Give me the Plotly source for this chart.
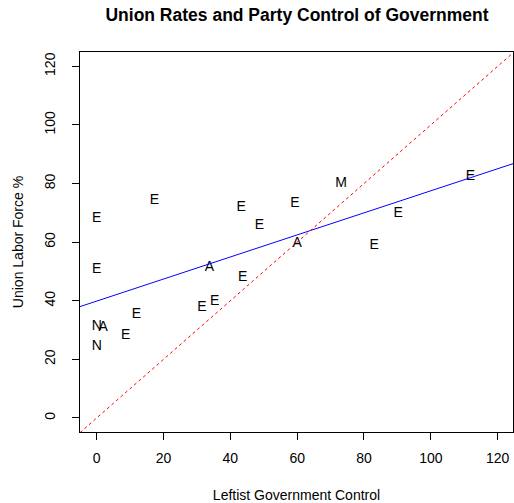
import numpy as np
import plotly.graph_objects as go

countries = ["Sweden", "Israel", "Iceland", "Finland", "Belgium", "Denmark", "Ireland",
             "Austria", "New Zealand", "Norway", "Australia", "Italy", "United Kingdom",
             "Germany", "Netherlands", "Switzerland", "Canada", "Japan", "France", "United States"]
union = [82.4, 80.0, 74.3, 73.3, 71.9, 69.8, 68.1, 65.6, 59.4, 58.9, 51.4, 50.6, 48.0,
         39.6, 37.7, 35.4, 31.2, 31.0, 28.2, 24.5]
left = [111.84, 73.17, 17.25, 59.33, 43.25, 90.24, 0.0, 48.67, 60.0, 83.08, 33.74, 0.0,
        43.67, 35.33, 31.50, 11.87, 0.0, 1.92, 8.67, 0.0]
region = ["E", "M", "E", "E", "E", "E", "E", "E", "A", "E", "A", "E", "E",
          "E", "E", "E", "N", "A", "E", "N"]

x_range = [-5.0, 124.6]
y_range = [-4.8, 124.9]
x_ticks = [0, 20, 40, 60, 80, 100, 120]
y_ticks = [0, 20, 40, 60, 80, 100, 120]

slope, intercept = np.polyfit(left, union, 1)
xl = np.array(x_range)

FONT = "Liberation Sans, Arial"

fig = go.Figure()
fig.add_trace(go.Scatter(x=left, y=union, mode="text", text=region,
                         textposition="middle center",
                         textfont=dict(family=FONT, size=14, color="black"),
                         hovertext=countries, showlegend=False))
fig.add_trace(go.Scatter(x=xl, y=intercept + slope * xl, mode="lines",
                         line=dict(color="blue", width=1), showlegend=False))
fig.add_trace(go.Scatter(x=xl, y=xl, mode="lines",
                         line=dict(color="red", width=1, dash="3px,3px"), showlegend=False))

axis_common = dict(showgrid=False, zeroline=False, showline=True, linecolor="black",
                   linewidth=1, mirror=True, ticks="outside", ticklen=7, tickcolor="black",
                   tickfont=dict(family=FONT, size=14, color="black"))
fig.update_xaxes(range=x_range, tickvals=x_ticks, ticklabelstandoff=6,
                 title=dict(text="Leftist Government Control",
                            font=dict(family=FONT, size=14, color="black"), standoff=25),
                 **axis_common)
fig.update_yaxes(range=y_range, tickvals=y_ticks, tickangle=-90, ticklabelstandoff=11,
                 title=dict(text="Union Labor Force %",
                            font=dict(family=FONT, size=14, color="black"), standoff=15),
                 **axis_common)
fig.update_layout(
    width=514, height=503,
    margin=dict(l=80, r=1, t=52, b=71),
    plot_bgcolor="white", paper_bgcolor="white",
    title=dict(text="<b>Union Rates and Party Control of Government</b>",
               xref="container", x=297 / 514, xanchor="center",
               y=1 - 15 / 503, yanchor="middle",
               font=dict(family=FONT, size=17.5, color="black")),
)
fig.write_html("out.html")
